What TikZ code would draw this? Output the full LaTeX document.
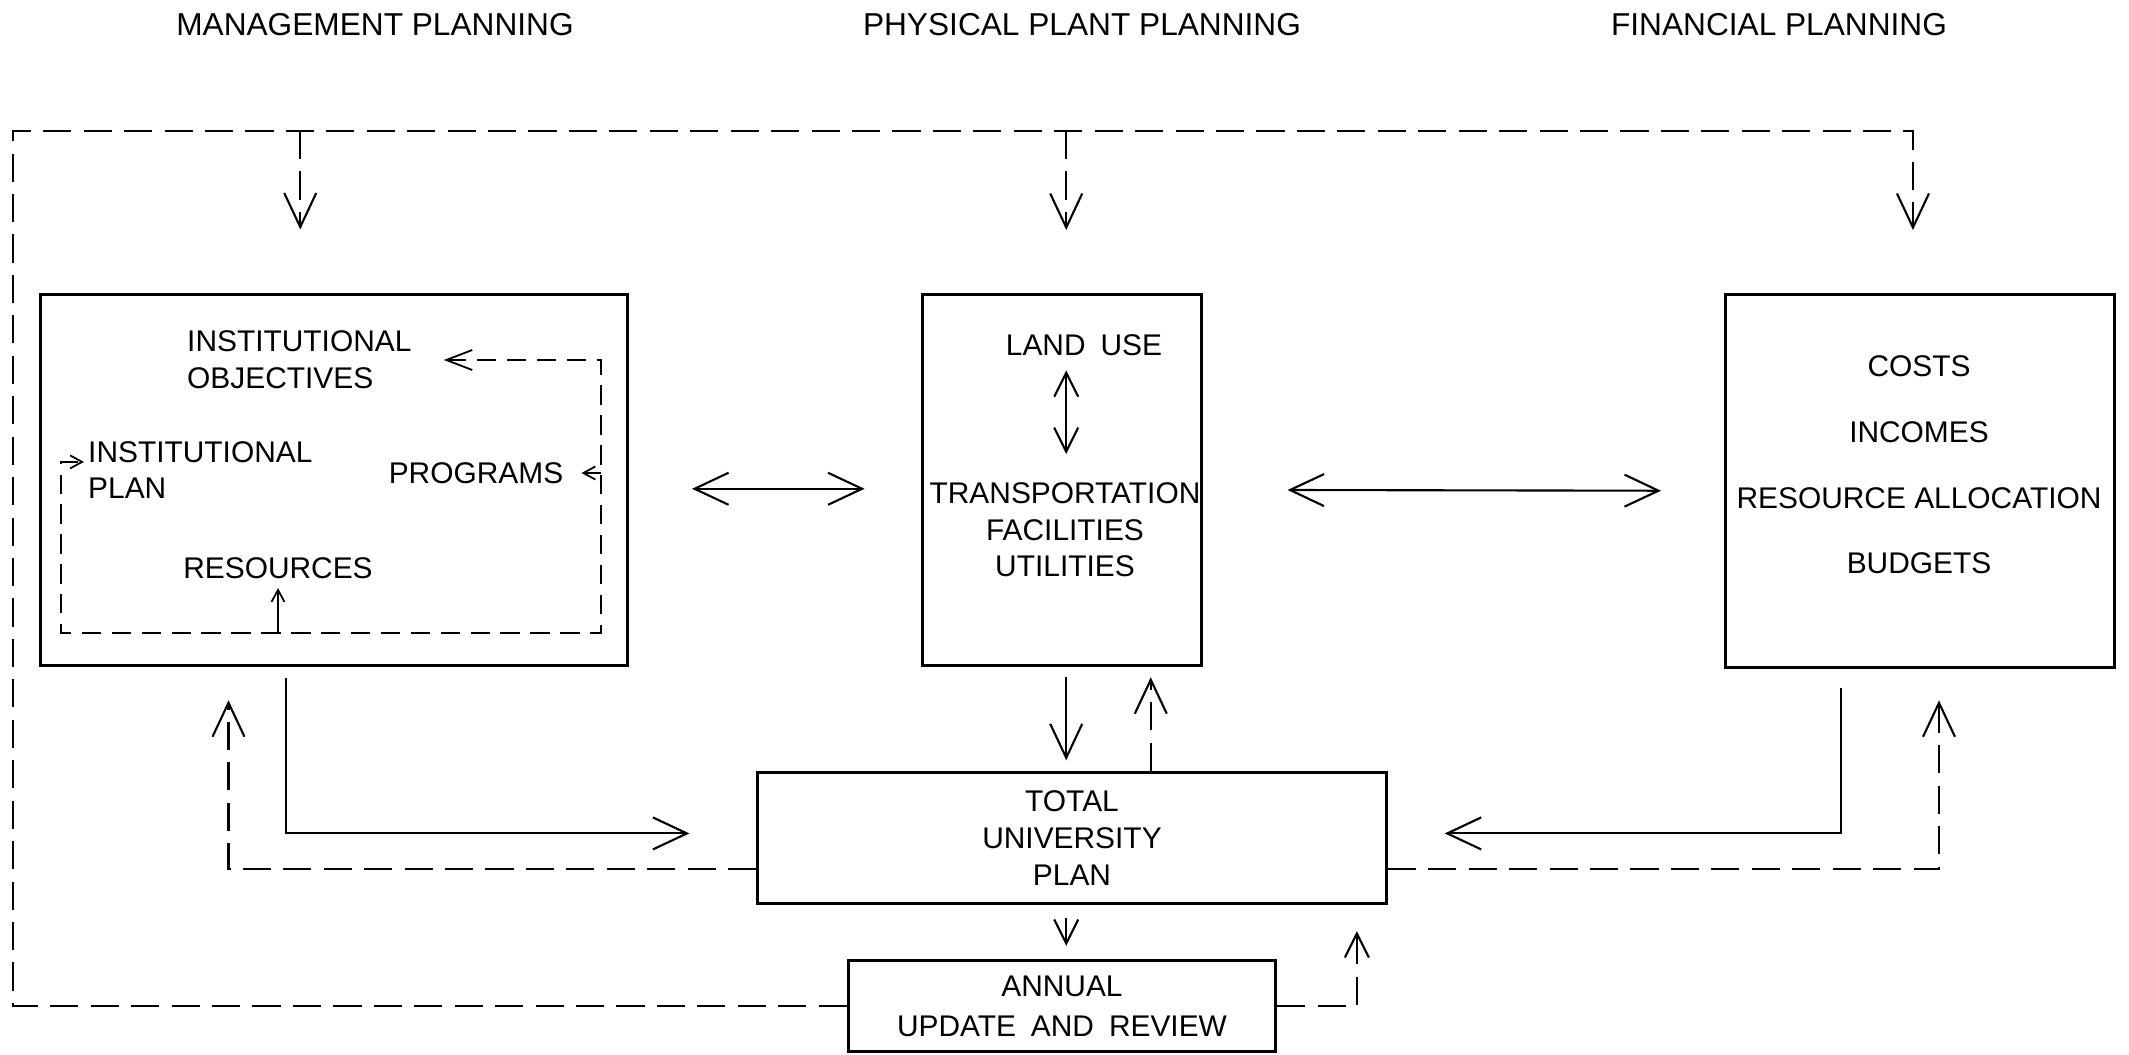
\documentclass[tikz,border=0pt]{standalone}
\usepackage{fontspec}
\setmainfont{Liberation Sans}
\usetikzlibrary{arrows.meta,positioning,calc}
\tikzset{block/.style={draw,line width=0.9pt,inner sep=0pt},txt/.style={font=\fontsize{8.5}{10.4}\selectfont,inner sep=1pt,align=center},ttl/.style={font=\fontsize{9}{11}\selectfont,inner sep=0pt},edge/.style={line width=0.6pt,-{Straight Barb[length=3.4mm,width=3.2mm]}},edgem/.style={line width=0.6pt,-{Straight Barb[length=2.4mm,width=2.4mm]}},fback/.style={edge,dash pattern=on 8pt off 3.5pt},fbackm/.style={edgem,dash pattern=on 8pt off 3.5pt},twoway/.style={line width=0.6pt,{Straight Barb[length=3.4mm,width=3.2mm]}-{Straight Barb[length=3.4mm,width=3.2mm]}},loopline/.style={line width=0.5pt,dash pattern=on 5.5pt off 3pt}}
\begin{document}
\begin{tikzpicture}[x=0.01cm,y=-0.01cm]
\useasboundingbox (0,0) rectangle (2129,1055);
% headings
\node[ttl] (tm) at (375,25) {MANAGEMENT PLANNING};
\node[ttl] (tp) at (1082,25) {PHYSICAL PLANT PLANNING};
\node[ttl] (tf) at (1779,25) {FINANCIAL PLANNING};
% boxes
\node[block,minimum width=5.86cm,minimum height=3.71cm] (mgmt) at (334,480) {};
\node[block,minimum width=2.79cm,minimum height=3.70cm] (phys) at (1062,480) {};
\node[block,minimum width=3.88cm,minimum height=3.72cm] (fin) at (1920,481) {};
\node[block,txt,minimum width=6.28cm,minimum height=1.31cm] (total) at (1072,838) {TOTAL\\UNIVERSITY\\PLAN};
\node[block,txt,minimum width=4.27cm,minimum height=0.91cm] (annual) at (1062,1006) {ANNUAL\\[1pt]UPDATE\enspace AND\enspace REVIEW};
% box contents
\node[txt,align=left,anchor=west] (obj) at (183,360) {INSTITUTIONAL\\OBJECTIVES};
\node[txt,align=left,anchor=west] (plan) at (84,470) {INSTITUTIONAL\\PLAN};
\node[txt] (prog) at (476,473) {PROGRAMS};
\node[txt] (res) at (278,568) {RESOURCES};
\node[txt] (land) at (1084,345) {LAND\enspace USE};
\node[txt] (trans) at (1065,530) {TRANSPORTATION\\FACILITIES\\UTILITIES};
\node[txt,font=\fontsize{8.5}{18.7}\selectfont] (fitxt) at (1919,465) {COSTS\\INCOMES\\RESOURCE ALLOCATION\\BUDGETS};
% loop inside management box
\coordinate (lc) at (601,633);
\coordinate (ld) at (61,633);
\draw[loopline,{Straight Barb[length=2.6mm,width=2mm]}-{Straight Barb[length=1.2mm,width=1.3mm]},shorten <=8pt] (obj.east) -| (lc) -- (ld) |- ([yshift=2.3pt]plan.west);
\draw[line width=0.5pt,-{Straight Barb[length=1.2mm,width=1.3mm]},shorten >=4pt] (prog.east -| lc) -- (prog.east);
\draw[line width=0.5pt,-{Straight Barb[length=1.2mm,width=1.3mm]},shorten >=1.5pt] (res.south |- lc) -- (res.south);
% between boxes
\draw[twoway,shorten <=18pt,shorten >=16pt] ([yshift=-2.5pt]mgmt.east) -- ([yshift=-2.5pt]phys.west);
\draw[twoway,shorten <=24pt,shorten >=18pt] ([yshift=-2.8pt]phys.east) -- ([yshift=-2.8pt]fin.west);
\draw[line width=0.6pt,{Straight Barb[length=2.4mm,width=2.4mm]}-{Straight Barb[length=2.4mm,width=2.4mm]},shorten <=3pt,shorten >=7pt] ([xshift=1.2pt]land.south -| phys.north) -- ([xshift=1.2pt]trans.north -| phys.north);
% to and from total plan
\draw[edge,shorten <=3pt,shorten >=19pt] ([xshift=-13.6pt]mgmt.south) |- ([yshift=1.3pt]total.west);
\draw[fback,shorten >=9.4pt] ([yshift=-8.9pt]total.west) -| ([xshift=-30pt]mgmt.south);
\draw[edge,shorten <=3pt,shorten >=3pt] ([xshift=1.2pt]phys.south) -- ([xshift=1.2pt]phys.south |- total.north);
\draw[fback,shorten >=3pt] ([xshift=22.4pt]total.north) -- ([xshift=22.4pt]total.north |- phys.south);
\draw[edge,shorten <=5.4pt,shorten >=16.2pt] ([xshift=-22.4pt]fin.south) |- ([yshift=1.3pt]total.east);
\draw[fback,shorten >=9pt] ([yshift=-8.9pt]total.east) -| ([xshift=5.4pt]fin.south);
% annual review
\draw[edgem,shorten <=3.7pt,shorten >=3.7pt] ([xshift=1.2pt]total.south -| annual.north) -- ([xshift=1.2pt]annual.north);
\draw[fbackm,shorten >=7.4pt] (annual.east) -| ([xshift=-8.8pt]total.south east);
% outer feedback loop
\coordinate (corner) at (13,131);
\draw[fback,shorten >=18pt] (annual.west) -| (corner) -| ([xshift=-2pt]fin.north);
\draw[fback,shorten >=18pt] ([xshift=-9.6pt]mgmt.north |- corner) -- ([xshift=-9.6pt]mgmt.north);
\draw[fback,shorten >=18pt] ([xshift=1.2pt]phys.north |- corner) -- ([xshift=1.2pt]phys.north);
\end{tikzpicture}
\end{document}
